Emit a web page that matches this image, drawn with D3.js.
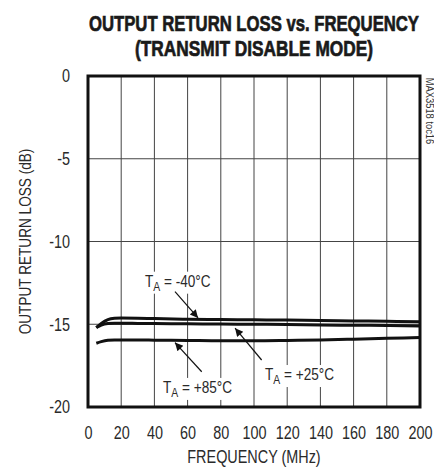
<!DOCTYPE html>
<html>
<head>
<meta charset="utf-8">
<script src="https://cdn.jsdelivr.net/npm/d3@7"></script>
<style>
  body { margin: 0; background: #fff; }
  svg { display: block; }
</style>
</head>
<body>
<div id="chart"></div>
<script>
const freq = [5, 8, 12, 16, 20, 30, 40, 60, 80, 100, 120, 140, 160, 180, 200];
const minus40 = [-15.2, -14.95, -14.72, -14.64, -14.62, -14.63, -14.66, -14.7, -14.72, -14.73, -14.75, -14.78, -14.8, -14.82, -14.85];
const plus25 = [-15.2, -15.05, -14.96, -14.94, -14.94, -14.95, -14.96, -14.97, -14.99, -15.0, -15.02, -15.04, -15.06, -15.07, -15.1];
const plus85 = [-16.15, -16.05, -15.97, -15.95, -15.95, -15.95, -15.96, -15.98, -16.0, -16.0, -15.98, -15.95, -15.9, -15.85, -15.8];
const xTicks = [0, 20, 40, 60, 80, 100, 120, 140, 160, 180, 200];
const yTicks = [0, -5, -10, -15, -20];

// label text, label anchor (MHz, dB), arrow from -> to
const notes = [
  { temp: "-40°C", at: [34.3, -12.73], from: [52.4, -13.03], to: [66.3, -14.62] },
  { temp: "+25°C", at: [106.6, -18.37], from: [104.6, -17.16], to: [88.6, -15.24] },
  { temp: "+85°C", at: [45.2, -19.15], from: [68.5, -17.87], to: [52.4, -16.11] }
];

const width = 434, height = 475;
const margin = { top: 76, right: 14, bottom: 68, left: 88 };
const innerWidth = width - margin.left - margin.right;
const innerHeight = height - margin.top - margin.bottom;
const font = "'Liberation Sans', Arial, sans-serif";

// squeeze text horizontally to mimic a condensed face
function condense(sel, k) {
  sel.each(function() {
    const w = this.getComputedTextLength();
    d3.select(this)
      .attr("textLength", w * k)
      .attr("lengthAdjust", "spacingAndGlyphs");
  });
}

const svg = d3.select("#chart")
  .append("svg")
  .attr("width", width)
  .attr("height", height);

svg.append("defs").append("marker")
  .attr("id", "arrow")
  .attr("viewBox", "0 0 10 10")
  .attr("refX", 10)
  .attr("refY", 5)
  .attr("markerWidth", 11)
  .attr("markerHeight", 8)
  .attr("markerUnits", "userSpaceOnUse")
  .attr("orient", "auto")
  .append("path")
  .attr("d", "M0,0L10,5L0,10Z")
  .attr("fill", "#111");

// title
svg.append("text")
  .attr("x", 254).attr("y", 31)
  .attr("text-anchor", "middle")
  .attr("textLength", 330)
  .attr("lengthAdjust", "spacingAndGlyphs")
  .style("font-family", font)
  .style("font-weight", "bold")
  .style("font-size", "22px")
  .style("fill", "#1a1a1a")
  .style("stroke", "#1a1a1a")
  .style("stroke-width", 0.7)
  .text("OUTPUT RETURN LOSS vs. FREQUENCY");

svg.append("text")
  .attr("x", 254).attr("y", 56)
  .attr("text-anchor", "middle")
  .attr("textLength", 238)
  .attr("lengthAdjust", "spacingAndGlyphs")
  .style("font-family", font)
  .style("font-weight", "bold")
  .style("font-size", "22px")
  .style("fill", "#1a1a1a")
  .style("stroke", "#1a1a1a")
  .style("stroke-width", 0.7)
  .text("(TRANSMIT DISABLE MODE)");

const g = svg.append("g")
  .attr("transform", `translate(${margin.left},${margin.top})`);

const xScale = d3.scaleLinear().domain([0, 200]).range([0, innerWidth]);
const yScale = d3.scaleLinear().domain([-20, 0]).range([innerHeight, 0]);

// grid
g.append("g")
  .selectAll("line")
  .data(xTicks.slice(1, -1))
  .enter()
  .append("line")
  .attr("x1", d => xScale(d)).attr("x2", d => xScale(d))
  .attr("y1", 0).attr("y2", innerHeight)
  .attr("stroke", "#444")
  .attr("stroke-width", 1);

g.append("g")
  .selectAll("line")
  .data(yTicks.slice(1, -1))
  .enter()
  .append("line")
  .attr("y1", d => yScale(d)).attr("y2", d => yScale(d))
  .attr("x1", 0).attr("x2", innerWidth)
  .attr("stroke", "#444")
  .attr("stroke-width", 1);

// axes (labels only)
const xAxis = g.append("g")
  .attr("transform", `translate(0,${innerHeight})`)
  .call(d3.axisBottom(xScale).tickValues(xTicks).tickSize(0).tickPadding(19));
const yAxis = g.append("g")
  .call(d3.axisLeft(yScale).tickValues(yTicks).tickSize(0).tickPadding(18)
    .tickFormat(d => d === 0 ? "0" : String(d)));
[xAxis, yAxis].forEach(a => {
  a.select(".domain").remove();
  a.selectAll("text")
    .style("font-family", font)
    .style("font-size", "18px")
    .style("fill", "#2a2a2a")
    .call(condense, 0.8);
});

// curves
const line = d3.line()
  .x((d, i) => xScale(freq[i]))
  .y(d => yScale(d))
  .curve(d3.curveMonotoneX);

[minus40, plus25, plus85].forEach(series => {
  g.append("path")
    .datum(series)
    .attr("d", line)
    .attr("fill", "none")
    .attr("stroke", "#111")
    .attr("stroke-width", 3);
});

// annotations
notes.forEach(n => {
  const ng = g.append("g");
  const box = ng.append("rect").attr("fill", "#fff");
  const t = ng.append("text")
    .attr("x", xScale(n.at[0]))
    .attr("y", yScale(n.at[1]))
    .style("font-family", font)
    .style("font-size", "17px")
    .style("fill", "#2a2a2a");
  t.append("tspan").text("T");
  t.append("tspan").attr("dy", 4).style("font-size", "13px").text("A");
  t.append("tspan").attr("dy", -4).text(" = " + n.temp);
  t.call(condense, 0.8);

  const bb = t.node().getBBox();
  box.attr("x", bb.x - 2).attr("y", bb.y)
    .attr("width", bb.width + 4).attr("height", bb.height);

  ng.append("line")
    .attr("x1", xScale(n.from[0])).attr("y1", yScale(n.from[1]))
    .attr("x2", xScale(n.to[0])).attr("y2", yScale(n.to[1]))
    .attr("stroke", "#111")
    .attr("stroke-width", 1.2)
    .attr("marker-end", "url(#arrow)");
});

// frame
g.append("rect")
  .attr("width", innerWidth)
  .attr("height", innerHeight)
  .attr("fill", "none")
  .attr("stroke", "#111")
  .attr("stroke-width", 3);

// axis titles
svg.append("text")
  .attr("x", margin.left + innerWidth / 2)
  .attr("y", 463)
  .attr("text-anchor", "middle")
  .style("font-family", font)
  .style("font-size", "18px")
  .style("fill", "#2a2a2a")
  .text("FREQUENCY (MHz)")
  .call(condense, 0.8);

svg.append("text")
  .attr("transform", `translate(31,${margin.top + innerHeight / 2}) rotate(-90)`)
  .attr("text-anchor", "middle")
  .style("font-family", font)
  .style("font-size", "17px")
  .style("fill", "#2a2a2a")
  .text("OUTPUT RETURN LOSS (dB)")
  .call(condense, 0.8);

svg.append("text")
  .attr("transform", "translate(426,111) rotate(90)")
  .attr("text-anchor", "middle")
  .style("font-family", font)
  .style("font-size", "11px")
  .style("fill", "#333")
  .text("MAX3518 toc16")
  .call(condense, 0.85);
</script>
</body>
</html>
